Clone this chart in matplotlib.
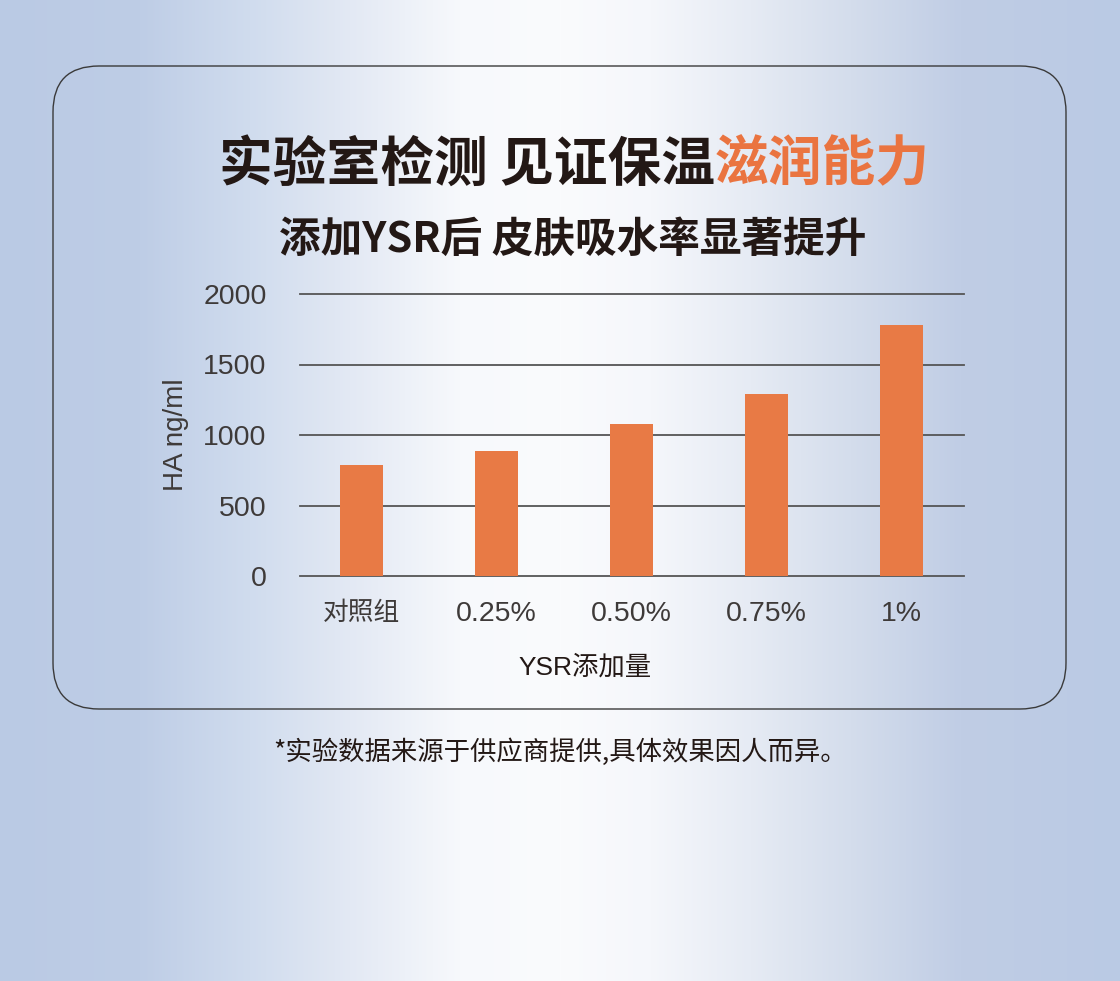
import numpy as np
import matplotlib
matplotlib.use('Agg')
import matplotlib.pyplot as plt
from matplotlib.patches import FancyBboxPatch

# ==============================
# DONNEES
# ==============================
categories = ['对照组', '0.25%', '0.50%', '0.75%', '1%']
ha_values = [790, 890, 1075, 1290, 1780]
y_ticks = [0, 500, 1000, 1500, 2000]

TITLE_DARK = '实验室检测 见证保温'
TITLE_ORANGE = '滋润能力'
SUBTITLE = '添加YSR后 皮肤吸水率显著提升'
X_LABEL = 'YSR添加量'
Y_LABEL = 'HA ng/ml'
FOOTNOTE = '*实验数据来源于供应商提供,具体效果因人而异。'

# ==============================
# STYLE
# ==============================
W, H = 1120, 981
DARK = '#231815'
GREY = '#3e3a39'
ORANGE = '#e87a45'
TITLE_ORANGE_COLOR = '#ea7440'
CJK = ['Noto Sans CJK SC', 'DejaVu Sans']
LATIN = ['Liberation Sans', 'Noto Sans CJK SC']

plt.rcParams['font.family'] = CJK

fig = plt.figure(figsize=(W / 100, H / 100), dpi=100)

# fond en degrade horizontal (bleu sur les bords, blanc au centre)
bg = fig.add_axes([0, 0, 1, 1])
bg.set_xlim(0, W)
bg.set_ylim(H, 0)
bg.axis('off')
stops_x = [0, 140, 250, 350, 460, 560, 650, 750, 850, 960, 1120]
stops_c = np.array([
    [186, 202, 228], [190, 205, 230], [208, 220, 238], [227, 233, 244],
    [247, 249, 252], [250, 251, 253], [245, 247, 251], [230, 235, 244],
    [212, 221, 236], [192, 205, 229], [186, 202, 228],
]) / 255.0
xs = np.arange(W)
row = np.stack([np.interp(xs, stops_x, stops_c[:, k]) for k in range(3)], axis=-1)
bg.imshow(np.tile(row[None, :, :], (2, 1, 1)), extent=(0, W, H, 0), aspect='auto', zorder=0)

# carte arrondie
card = FancyBboxPatch((53, 66), 1066 - 53, 709 - 66,
                      boxstyle='round,pad=0,rounding_size=46',
                      facecolor='none', edgecolor='#3a3a3a', linewidth=1.0, zorder=1)
bg.add_patch(card)

# titres
t1 = bg.text(715, 165, TITLE_DARK, ha='right', va='center', fontsize=38.7,
             fontweight='heavy', color=DARK, family=CJK)
bg.annotate(TITLE_ORANGE, xy=(1, 0), xycoords=t1, ha='left', va='bottom',
            fontsize=38.7, fontweight='heavy', color=TITLE_ORANGE_COLOR, family=CJK)
bg.text(573, 240, SUBTITLE, ha='center', va='center', fontsize=30,
        fontweight='heavy', color=DARK, family=CJK)
bg.text(560, 752, FOOTNOTE, ha='center', va='center', fontsize=19,
        color=DARK, family=CJK)

# ==============================
# GRAPHIQUE
# ==============================
ax = fig.add_axes([300 / W, (H - 576) / H, 664 / W, 282 / H])
ax.patch.set_alpha(0)
for s in ax.spines.values():
    s.set_visible(False)

x = np.arange(len(categories))
for v in y_ticks:
    ax.axhline(v, color='#555555', linewidth=1.3, zorder=1, clip_on=False)
ax.bar(x, ha_values, width=0.318, color=ORANGE, zorder=2)

ax.set_xlim(-0.456, 4.463)
ax.set_ylim(0, 2000)
ax.set_yticks(y_ticks)
ax.set_yticklabels([str(v) for v in y_ticks], family=LATIN, fontsize=20.5, color=GREY)
ax.set_xticks(x)
ax.set_xticklabels(categories, family=LATIN, fontsize=20.5, color=GREY)
ax.get_xticklabels()[0].set_fontsize(18.5)
ax.tick_params(axis='y', length=0, pad=24)
ax.tick_params(axis='x', length=0, pad=18)

ax.text((176 - 300) / 664, 0.5, Y_LABEL, transform=ax.transAxes, rotation=90,
        ha='center', va='center', fontsize=20, color=GREY, family=LATIN)
ax.text((585 - 300) / 664, -(667 - 576) / 282, X_LABEL, transform=ax.transAxes,
        ha='center', va='center', fontsize=19, color=DARK, family=LATIN)

fig.savefig('out.png', dpi=100)
